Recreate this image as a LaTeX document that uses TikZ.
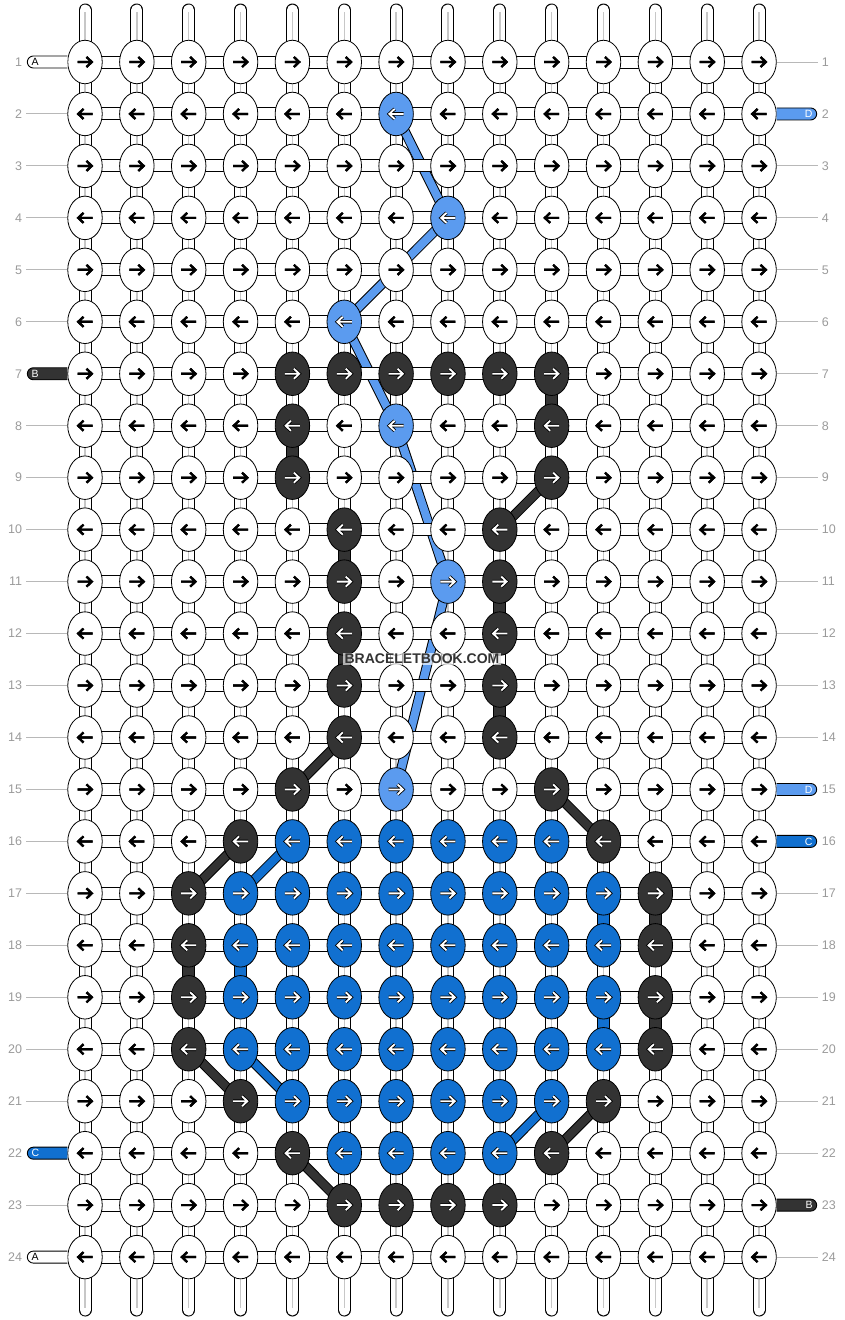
\documentclass[tikz,border=0pt]{standalone}
\usepackage{fontspec}
\setsansfont{Liberation Sans}
\usetikzlibrary{shapes.geometric, calc}

\definecolor{strandB}{HTML}{333333}
\definecolor{strandC}{HTML}{1170D0}
\definecolor{strandD}{HTML}{5B9BEF}
\definecolor{numgray}{HTML}{9A9A9A}

\tikzset{
knot/.style={ellipse, draw=black, line width=0.8pt, fill=white,
  minimum width=34.5pt, minimum height=43.5pt, inner sep=0pt,
  arrow outer/.style={black, line width=2.2pt},
  arrow inner/.style={black, line width=2.2pt}}, % plain white knot, black arrow
goright/.style={path picture={
  \draw[arrow outer] ($(path picture bounding box.center)+(-7.5pt,0pt)$) -- ++(14pt,0pt)
    ++(-5pt,-5pt) -- ++(5.3pt,5pt) -- ++(-5.3pt,5pt);
  \draw[arrow inner] ($(path picture bounding box.center)+(-7.5pt,0pt)$) -- ++(14pt,0pt)
    ++(-5pt,-5pt) -- ++(5.3pt,5pt) -- ++(-5.3pt,5pt);}},
goleft/.style={path picture={
  \draw[arrow outer] ($(path picture bounding box.center)+(7.5pt,0pt)$) -- ++(-14pt,0pt)
    ++(5pt,-5pt) -- ++(-5.3pt,5pt) -- ++(5.3pt,5pt);
  \draw[arrow inner] ($(path picture bounding box.center)+(7.5pt,0pt)$) -- ++(-14pt,0pt)
    ++(5pt,-5pt) -- ++(-5.3pt,5pt) -- ++(5.3pt,5pt);}},
filled knot/.style={fill=#1,
  arrow outer/.style={black, line width=3.5pt},
  arrow inner/.style={white, line width=1.8pt}},
plain/.style={},
colB/.style={filled knot=strandB},
colC/.style={filled knot=strandC},
colD/.style={filled knot=strandD},
tube/.style={line width=13pt, line cap=round, black}, % vertical strands
tube inside/.style={line width=11pt, line cap=round, white},
tube core/.style={line width=1.5pt, black!22, shorten <=2pt, shorten >=2pt},
fillseg/.style={draw=#1, line width=11pt},
hbar/.style={double=white, double distance=11pt, line width=1pt}, % between knots of a row
strand/.style={double=#1, double distance=8pt, line width=1pt}, % carried strands
rownum/.style={font=\sffamily\fontsize{12.5}{14}\selectfont, text=numgray, inner sep=0pt},
rowline/.style={draw=black!28, line width=1pt},
tab/.style={draw=black, line width=0.9pt, fill=#1, rounded corners=6pt},
tabletter/.style={font=\sffamily\fontsize{10.5}{12}\selectfont, inner sep=0pt},
watermark/.style={font=\sffamily\bfseries\fontsize{14}{16}\selectfont, text=black!80,
  fill=white, fill opacity=0.65, text opacity=1, inner sep=1.5pt},
}

% colour of each knot, stored globally: \setknot{row}{columns}{style}
\newcommand{\setknot}[3]{\foreach \c in {#2}{\expandafter\gdef\csname kc-#1-\c\endcsname{#3}}}
\setknot{2}{7}{colD}
\setknot{4}{8}{colD}
\setknot{6}{6}{colD}
\setknot{7}{5,6,7,8,9,10}{colB}
\setknot{8}{5,10}{colB}
\setknot{8}{7}{colD}
\setknot{9}{5,10}{colB}
\setknot{10}{6,9}{colB}
\setknot{11}{6,9}{colB}
\setknot{11}{8}{colD}
\setknot{12}{6,9}{colB}
\setknot{13}{6,9}{colB}
\setknot{14}{6,9}{colB}
\setknot{15}{5,10}{colB}
\setknot{15}{7}{colD}
\setknot{16}{4,11}{colB}
\setknot{16}{5,...,10}{colC}
\setknot{17}{3,12}{colB}
\setknot{17}{4,...,11}{colC}
\setknot{18}{3,12}{colB}
\setknot{18}{4,...,11}{colC}
\setknot{19}{3,12}{colB}
\setknot{19}{4,...,11}{colC}
\setknot{20}{3,12}{colB}
\setknot{20}{4,...,11}{colC}
\setknot{21}{4,11}{colB}
\setknot{21}{5,...,10}{colC}
\setknot{22}{5,10}{colB}
\setknot{22}{6,...,9}{colC}
\setknot{23}{6,...,9}{colB}

\begin{document}
\begin{tikzpicture}[x=1pt, y=-1pt]
  \useasboundingbox (0,0) rectangle (844,1320);

  % grid points and strand ends
  \foreach \r in {1,...,24}
    \foreach \c in {1,...,14}
      \coordinate (p-\r-\c) at ({85+(\c-1)*51.85},{62+(\r-1)*51.96});
  \foreach \c in {1,...,14}{
    \coordinate (top-\c) at ({85+(\c-1)*51.85},10);
    \coordinate (bot-\c) at ({85+(\c-1)*51.85},1310);
  }

  % vertical strands
  \foreach \c in {1,...,14}{
    \draw[tube] (top-\c) -- (bot-\c);
    \draw[tube inside] (top-\c) -- (bot-\c);
    \draw[tube core] (top-\c) -- (bot-\c);
  }
  \foreach \r/\c/\col in {7/10/strandB, 8/5/strandB, 10/6/strandB, 11/9/strandB,
      12/6/strandB, 13/9/strandB, 17/12/strandB, 18/3/strandB, 19/12/strandB,
      17/11/strandC, 18/4/strandC, 19/11/strandC}{
    \pgfmathtruncatemacro{\rn}{\r+1}
    \draw[fillseg=\col] (p-\r-\c) -- (p-\rn-\c);
  }

  % carried strands
  \foreach \a/\b/\col in {2-7/4-8/strandD, 4-8/6-6/strandD, 6-6/8-7/strandD,
      8-7/11-8/strandD, 11-8/15-7/strandD,
      9-10/10-9/strandB, 14-6/15-5/strandB, 16-4/17-3/strandB, 15-10/16-11/strandB,
      20-3/21-4/strandB, 22-5/23-6/strandB, 21-11/22-10/strandB,
      16-5/17-4/strandC, 20-4/21-5/strandC, 21-10/22-9/strandC}
    \draw[strand=\col] (p-\a) -- (p-\b);

  % links along each row
  \foreach \r in {1,...,24}
    \foreach \c [count=\n from 2] in {1,...,13}
      \draw[hbar] (p-\r-\c) -- (p-\r-\n);

  % knots: odd rows point right, even rows left
  \foreach \r in {1,...,24}{
    \pgfmathtruncatemacro{\odd}{mod(\r,2)}
    \ifnum\odd=1 \def\kd{goright}\else\def\kd{goleft}\fi
    \foreach \c in {1,...,14}{
      \ifcsname kc-\r-\c\endcsname \edef\kc{\csname kc-\r-\c\endcsname}\else\def\kc{plain}\fi
      \node[knot, \kc, \kd] (k-\r-\c) at (p-\r-\c) {};
    }
  }

  % row numbers
  \foreach \r in {1,...,24}{
    \node[rownum, anchor=east] (numL-\r) at ([xshift=-45pt]k-\r-1.west) {\r};
    \node[rownum, anchor=west] (numR-\r) at ([xshift=45pt]k-\r-14.east) {\r};
  }
  \foreach \r in {2,3,4,5,6,8,9,...,21,23}
    \draw[rowline] (k-\r-1.west) -- ++(-41,0);
  \foreach \r in {1,3,4,5,6,7,8,9,10,11,12,13,14,17,18,19,20,21,22,24}
    \draw[rowline] (k-\r-14.east) -- ++(41,0);

  % strands entering and leaving
  \foreach \r/\lt/\col/\txt in {1/A/white/black, 7/B/strandB/white, 22/C/strandC/white, 24/A/white/black}{
    \draw[tab=\col] ([yshift=6pt]k-\r-1.west) -- ++(-40,0) -- ++(0,12) -- ++(40,0);
    \node[tabletter, text=\txt, anchor=west] (tabL-\r) at ([xshift=-36pt]k-\r-1.west) {\lt};
  }
  \foreach \r/\lt/\col/\txt in {2/D/strandD/white, 15/D/strandD/white, 16/C/strandC/white, 23/B/strandB/white}{
    \draw[tab=\col] ([yshift=6pt]k-\r-14.east) -- ++(40,0) -- ++(0,12) -- ++(-40,0);
    \node[tabletter, text=\txt, anchor=east] (tabR-\r) at ([xshift=36pt]k-\r-14.east) {\lt};
  }

  \node[watermark] (wm) at (422,659) {BRACELETBOOK.COM};
\end{tikzpicture}
\end{document}
